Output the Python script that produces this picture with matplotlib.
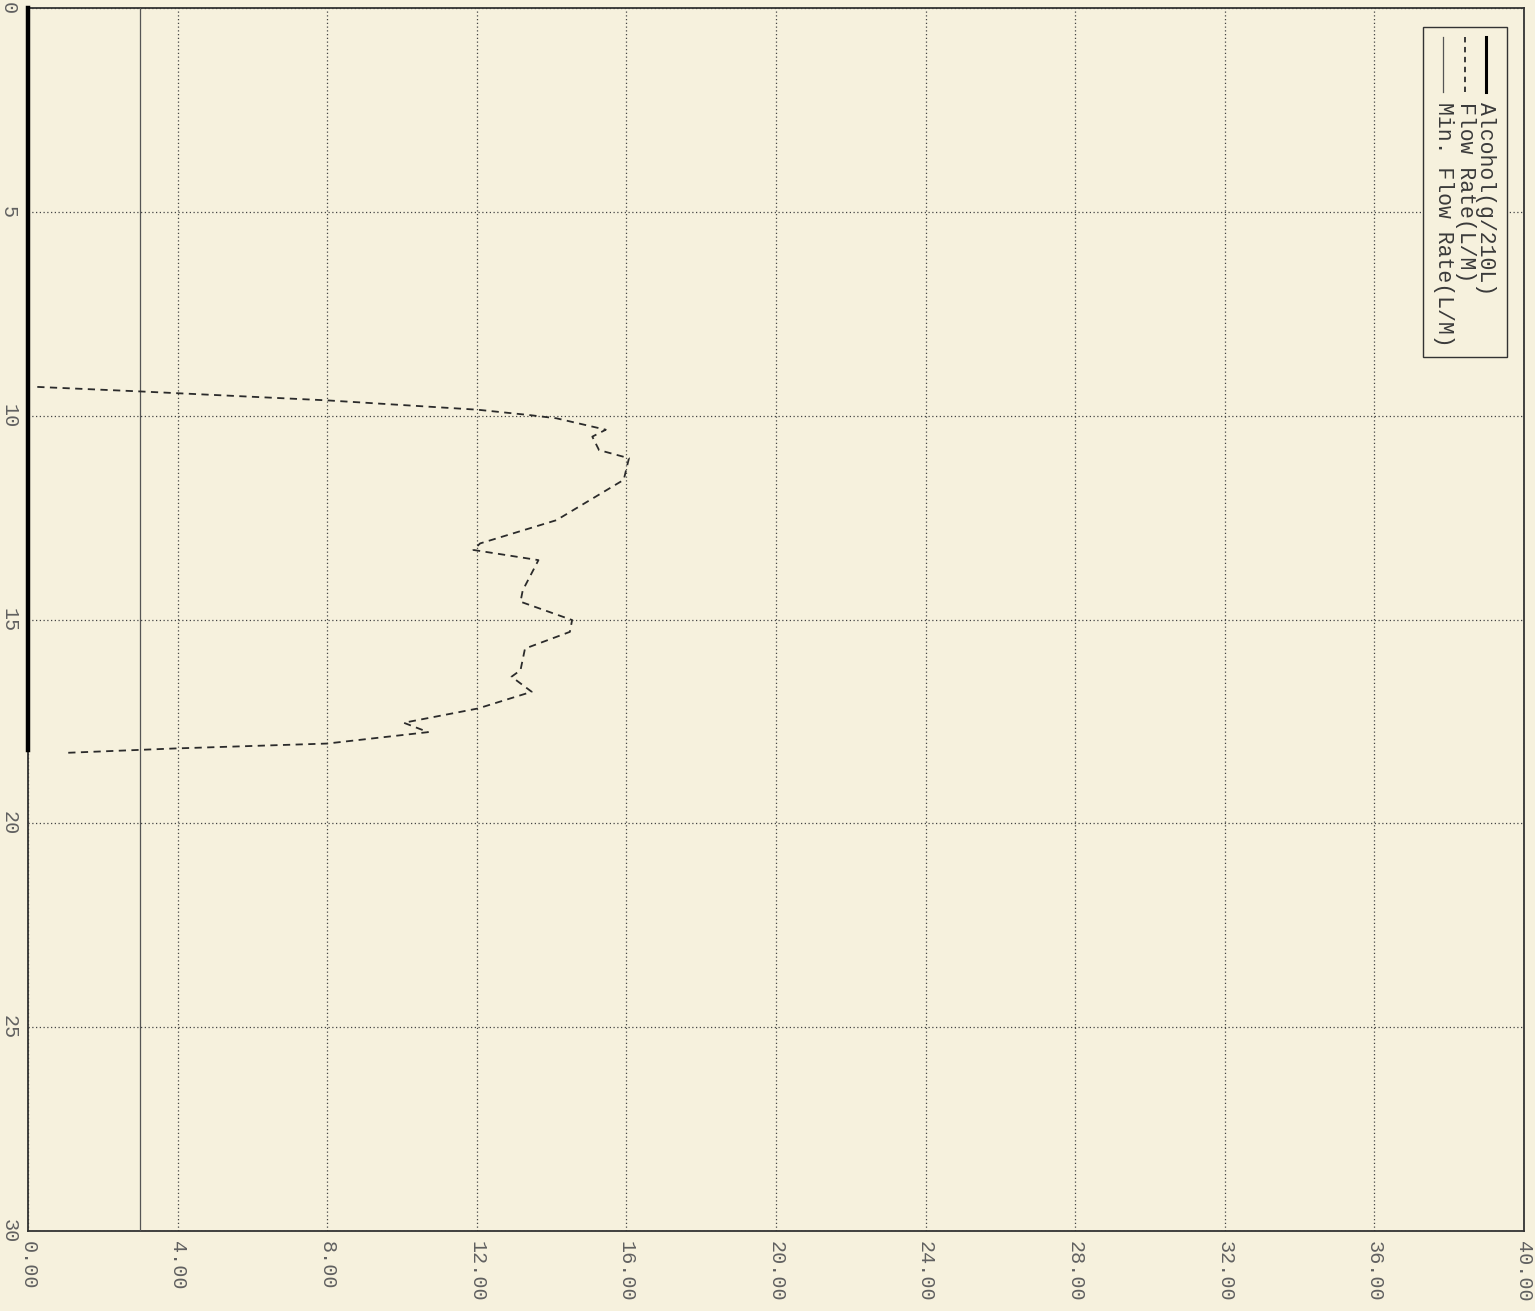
import numpy as np
import matplotlib
matplotlib.use('Agg')
import matplotlib.pyplot as plt

# breath test printout, rotated 90 deg (time runs down the page)
time_flow = [9.29, 9.40, 9.62, 9.85, 9.98, 10.06, 10.34, 10.51, 10.84, 11.04,
             11.57, 12.56, 13.13, 13.29, 13.54, 14.28, 14.56, 15.01, 15.30,
             15.71, 16.24, 16.40, 16.77, 17.18, 17.53, 17.76, 18.04, 18.16, 18.27]
flow_rate = [0.25, 2.98, 8.0, 12.03, 13.4, 14.13, 15.45, 15.09, 15.27, 16.07,
             15.93, 14.13, 12.09, 11.91, 13.65, 13.23, 13.17, 14.55, 14.49,
             13.29, 13.17, 12.93, 13.47, 12.03, 10.05, 10.7, 8.0, 3.94, 0.97]
time_alc = [0.0, 18.2]
alcohol = [0.0, 0.0]
time_min = [0.0, 30.0]
min_flow = [3.0, 3.0]

time_ticks = [0, 5, 10, 15, 20, 25, 30]
value_ticks = [0, 4, 8, 12, 16, 20, 24, 28, 32, 36, 40]
labels = ['Alcohol(g/210L)', 'Flow Rate(L/M)', 'Min. Flow Rate(L/M)']

paper = '#f6f1dd'
ink = '#2b2b2b'
mono = 'Liberation Mono'

fig = plt.figure(figsize=(15.35, 13.11), dpi=100)
fig.patch.set_facecolor(paper)
ax = fig.add_axes([0.0182, 0.061, 0.9746, 0.9327])
ax.set_facecolor(paper)

ax.plot(alcohol, time_alc, color='black', lw=3.2, clip_on=False, zorder=5)
ax.plot(flow_rate, time_flow, color=ink, lw=1.3, dashes=(4, 3), zorder=4)
ax.plot(min_flow, time_min, color='#555555', lw=0.9, zorder=3)

ax.set_xlim(0, 40)
ax.set_ylim(30, 0)
ax.set_xticks(value_ticks)
ax.set_xticklabels(['%.2f' % v for v in value_ticks], rotation=-90,
                   fontfamily=mono, fontsize=14.5, color='#606060')
ax.set_yticks(time_ticks)
ax.set_yticklabels([str(t) for t in time_ticks], rotation=-90, va='center',
                   fontfamily=mono, fontsize=14.5, color='#606060')
ax.tick_params(length=0, pad=7)
ax.grid(True, color='#444444', lw=0.9, linestyle=(0, (1, 2)))
for s in ax.spines.values():
    s.set_color('#333333')
    s.set_linewidth(1.3)

# hand-made legend (printed sideways)
tr = ax.transAxes
box = plt.Rectangle((0.9325, 0.715), 0.9887 - 0.9325, 0.985 - 0.715,
                    transform=tr, facecolor=paper, edgecolor='#333333',
                    lw=1.0, zorder=6)
ax.add_patch(box)
lx = [0.9746, 0.9606, 0.9460]
styles = [dict(color='black', lw=2.2),
          dict(color=ink, lw=1.3, dashes=(3, 2.5)),
          dict(color='#555555', lw=0.9)]
for x, lab, st in zip(lx, labels, styles):
    ax.plot([x, x], [0.9768, 0.9318], transform=tr, zorder=7, **st)
    ax.text(x, 0.9236, lab, transform=tr, rotation=-90, ha='center', va='top',
            fontfamily=mono, fontsize=15.5, color='#3a3a3a', zorder=7)

fig.savefig('out.png', dpi=100, facecolor=paper)
